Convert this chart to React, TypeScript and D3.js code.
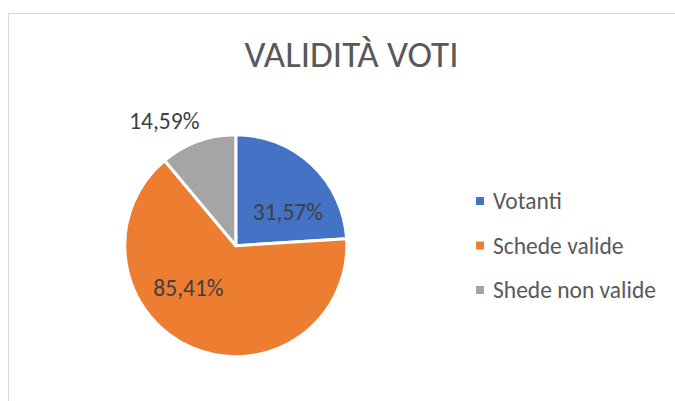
import React from "react";
import * as d3 from "d3";

const title = "VALIDITÀ VOTI";
const categories = ["Votanti", "Schede valide", "Shede non valide"];
const values = [31.57, 85.41, 14.59];
const labels = ["31,57%", "85,41%", "14,59%"];
const colors = ["#4472C4", "#ED7D31", "#A5A5A5"];

const W = 675;
const H = 401;
const cx = 235.8;
const cy = 245.7;
const R = 111;
// label placement (layout): radius factor and angular shift (radians)
const labelLayout = [
  { rf: 0.56, shift: 0.24 },
  { rf: 0.57, shift: 0.44 },
  { rf: 1.3, shift: -0.17 },
];

const FONT = "Carlito, Calibri, Lato, 'Open Sans', sans-serif";

export default function App() {
  const pie = d3
    .pie<number>()
    .sort(null)
    .value((d) => d);
  const arcs = pie(values);
  const arc = d3.arc<d3.PieArcDatum<number>>().innerRadius(0).outerRadius(R);

  const legendY = d3
    .scalePoint<string>()
    .domain(categories)
    .range([201, 290]);

  return (
    <div style={{ position: "fixed", left: 0, top: 0 }}>
      <svg width={W} height={H} style={{ display: "block", background: "#fff" }}>
        <rect x={8.5} y={13.5} width={700} height={420} fill="#fff" stroke="#D9D9D9" strokeWidth={1} />
        <text
          x={351.5}
          y={67}
          textAnchor="middle"
          fontFamily={FONT}
          fontWeight={300}
          fontSize={37}
          fill="#595959"
        >
          {title}
        </text>
        <g transform={`translate(${cx},${cy})`}>
          {arcs.map((a, i) => (
            <path key={i} d={arc(a) || ""} fill={colors[i]} stroke="#fff" strokeWidth={3} strokeLinejoin="round" />
          ))}
          {arcs.map((a, i) => {
            const mid = (a.startAngle + a.endAngle) / 2 + labelLayout[i].shift;
            const r = R * labelLayout[i].rf;
            const x = Math.sin(mid) * r;
            const y = -Math.cos(mid) * r;
            return (
              <text
                key={i}
                x={x}
                y={y}
                dy="0.35em"
                textAnchor="middle"
                fontFamily={FONT}
                fontSize={23.5}
                fill="#404040"
              >
                {labels[i]}
              </text>
            );
          })}
        </g>
        <g>
          {categories.map((c, i) => (
            <g key={c} transform={`translate(476,${legendY(c)})`}>
              <rect x={0} y={-4} width={8} height={8} fill={colors[i]} />
              <text x={17} y={0} dy="0.35em" fontFamily={FONT} fontSize={23.5} fill="#595959">
                {c}
              </text>
            </g>
          ))}
        </g>
      </svg>
    </div>
  );
}
